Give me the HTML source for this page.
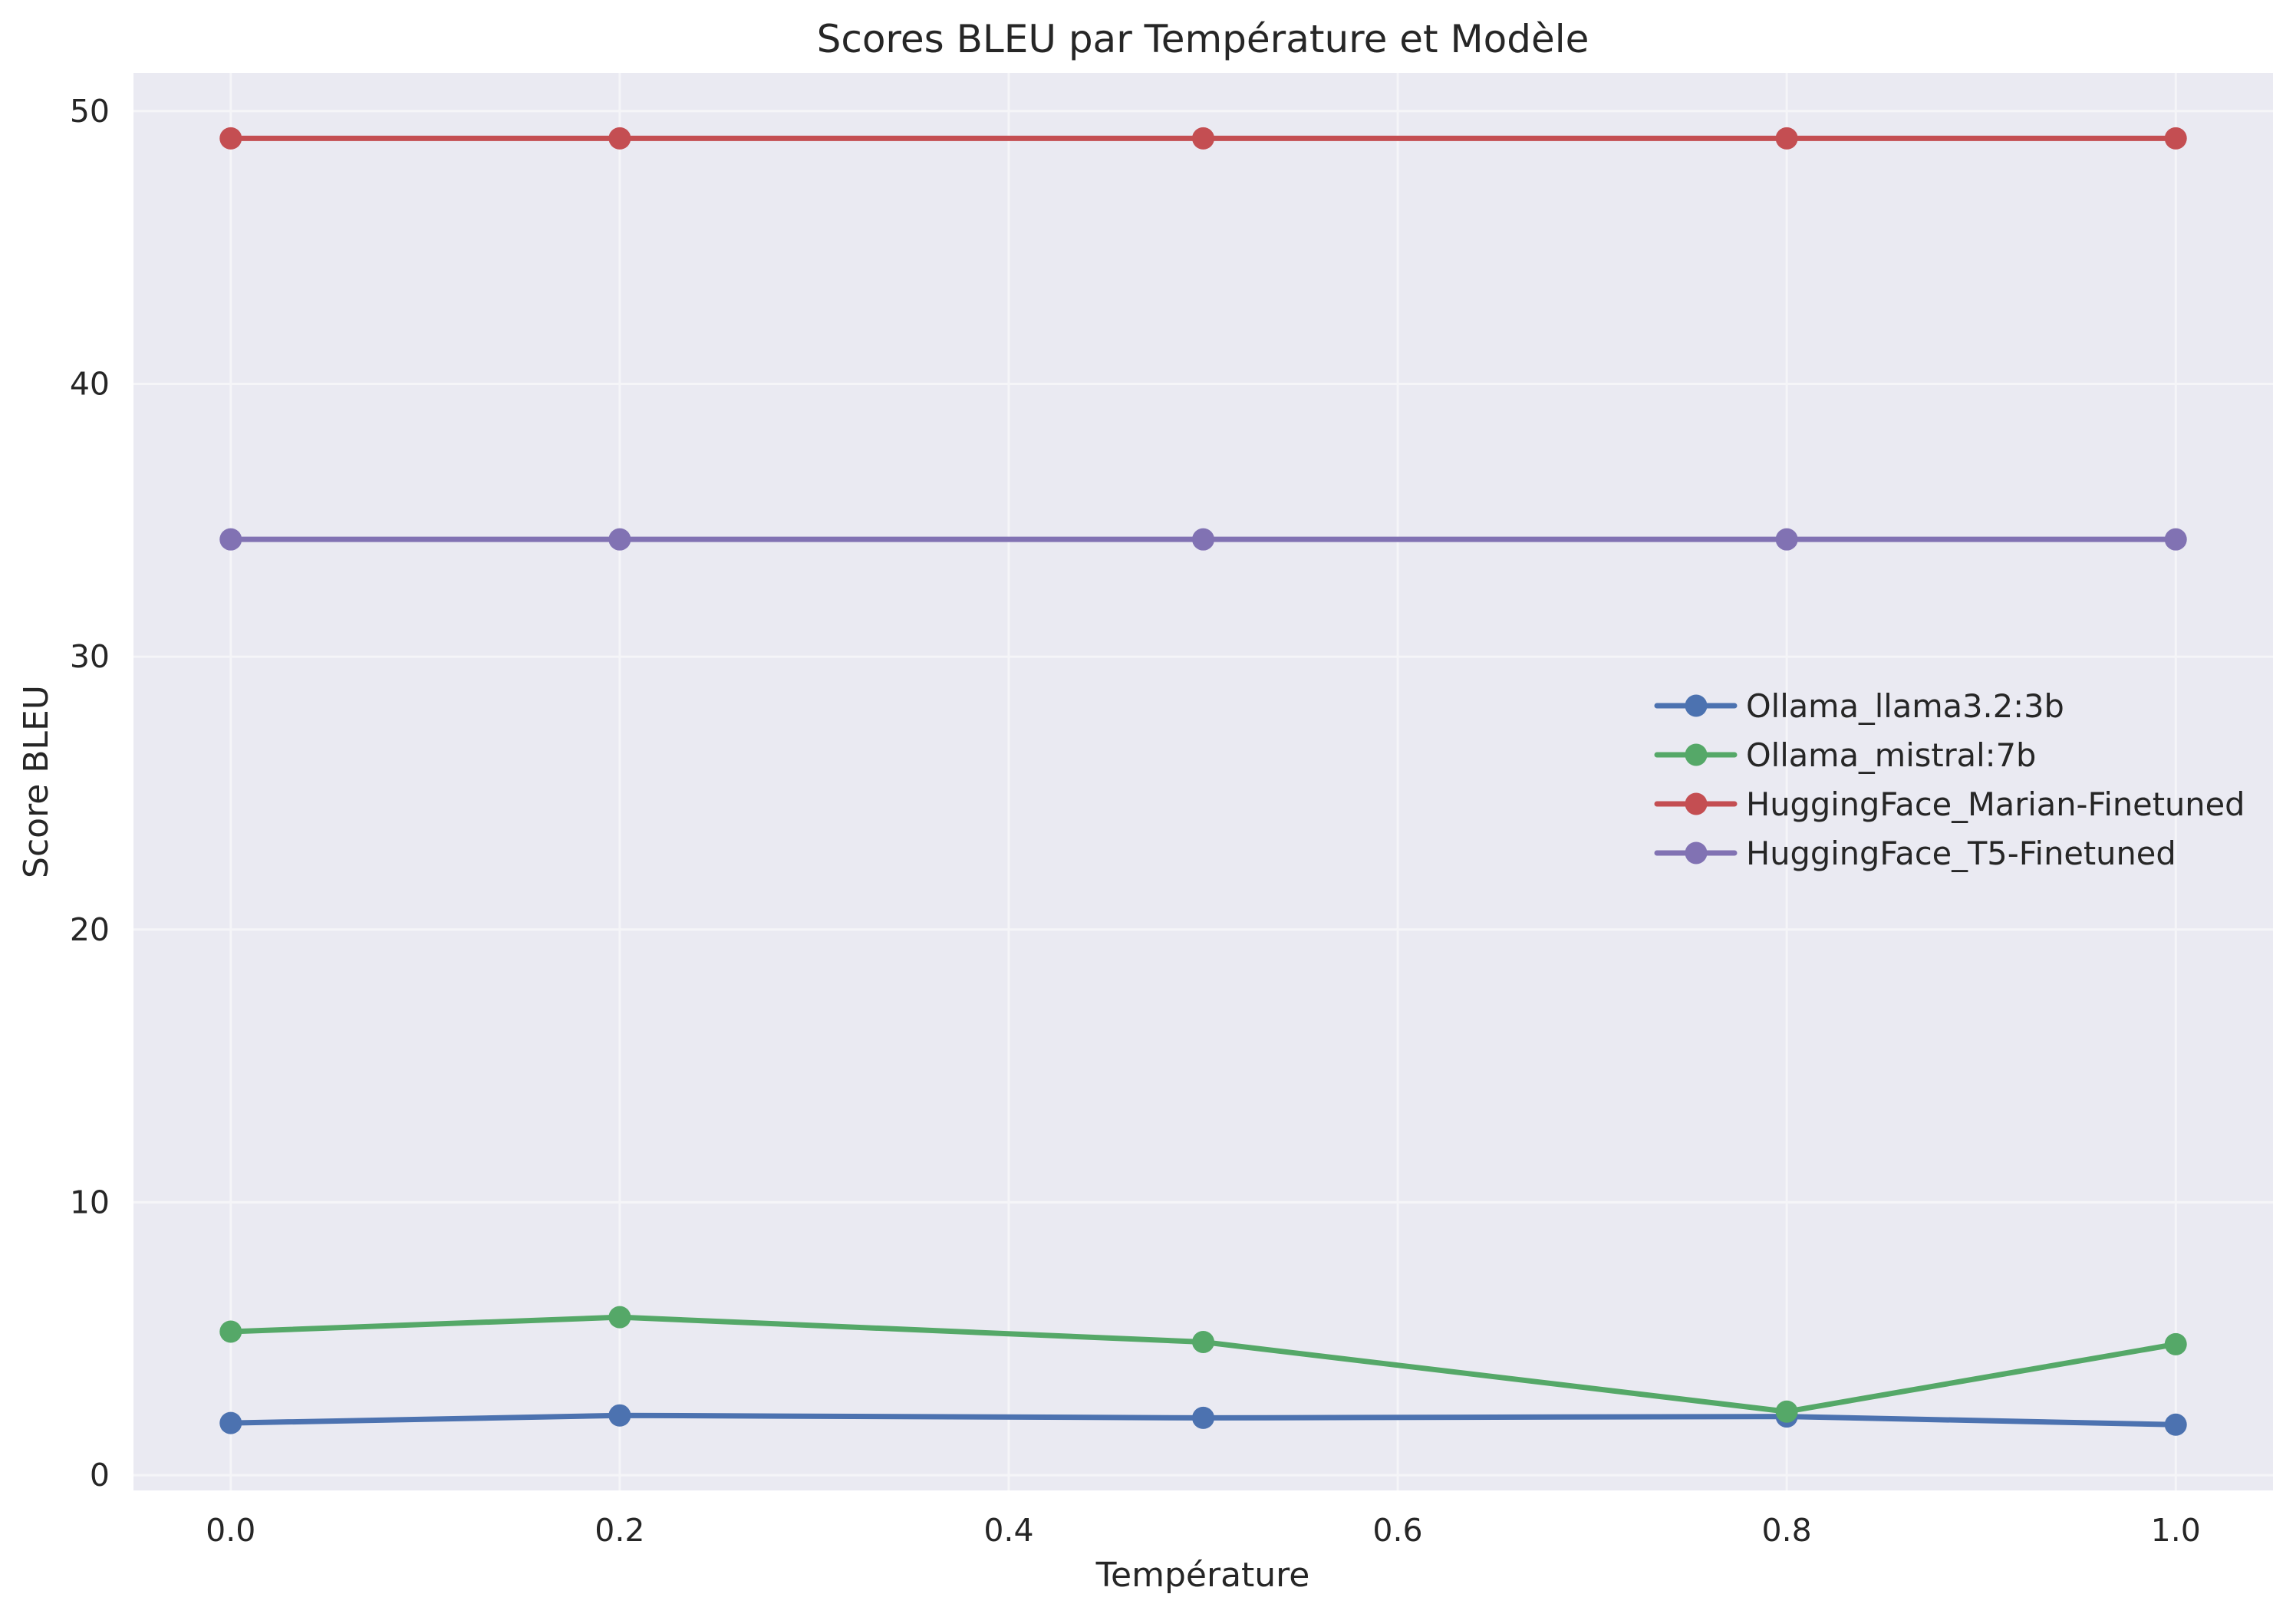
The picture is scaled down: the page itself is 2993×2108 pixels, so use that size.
<!DOCTYPE html>
<html><head><meta charset="utf-8"><style>
html,body{margin:0;padding:0;background:#fff}
svg{display:block;font-family:"DejaVu Sans","Liberation Sans",sans-serif}
</style></head><body>
<svg id="chart" width="2993" height="2108" viewBox="0 0 2993 2108" xmlns="http://www.w3.org/2000/svg">
<rect x="174" y="95" width="2789" height="1848" fill="#eaeaf2"/>
<g id="grid"></g>
<g id="ticks"></g>
<g id="series"></g>
<text x="1568" y="68" font-size="50" text-anchor="middle" fill="#262626">Scores BLEU par Température et Modèle</text>
<text x="1568" y="2068" font-size="44" text-anchor="middle" fill="#262626">Température</text>
<text transform="translate(62,1019) rotate(-90)" font-size="44" text-anchor="middle" fill="#262626">Score BLEU</text>
<g id="legend"></g>
</svg>
<script>
const temps = [0.0, 0.2, 0.5, 0.8, 1.0];
const seriesNames = ["Ollama_llama3.2:3b", "Ollama_mistral:7b", "HuggingFace_Marian-Finetuned", "HuggingFace_T5-Finetuned"];
const llamaValues = [1.91, 2.19, 2.1, 2.15, 1.85];
const mistralValues = [5.26, 5.79, 4.88, 2.33, 4.8];
const marianValues = [49.0, 49.0, 49.0, 49.0, 49.0];
const t5Values = [34.3, 34.3, 34.3, 34.3, 34.3];
const xTicks = [0.0, 0.2, 0.4, 0.6, 0.8, 1.0];
const xTickLabels = ["0.0", "0.2", "0.4", "0.6", "0.8", "1.0"];
const yTicks = [0, 10, 20, 30, 40, 50];
const yTickLabels = ["0", "10", "20", "30", "40", "50"];

const NS = "http://www.w3.org/2000/svg";
const L = 174, R = 2963, T = 95, B = 1943;
const xMin = -0.05, xMax = 1.05, yMin = -0.56, yMax = 51.4;
const xs = v => L + (v - xMin) / (xMax - xMin) * (R - L);
const ys = v => B - (v - yMin) / (yMax - yMin) * (B - T);
function mk(tag, attrs, parent) {
  const e = document.createElementNS(NS, tag);
  for (const k in attrs) e.setAttribute(k, attrs[k]);
  parent.appendChild(e); return e;
}
const grid = document.getElementById("grid"), ticks = document.getElementById("ticks");
xTicks.forEach((t, i) => {
  const l = mk("line", {x1: xs(t), x2: xs(t), y1: T, y2: B, stroke: "#f5f5f8", "stroke-width": 3}, grid);
  
  
  const tx = mk("text", {x: xs(t), y: 2009, "font-size": 41, "text-anchor": "middle", fill: "#262626"}, ticks);
  tx.textContent = xTickLabels[i];
  
  
});
yTicks.forEach((t, i) => {
  const l = mk("line", {x1: L, x2: R, y1: ys(t), y2: ys(t), stroke: "#f5f5f8", "stroke-width": 3}, grid);
  
  
  const tx = mk("text", {x: 143, y: ys(t) + 14, "font-size": 41, "text-anchor": "end", fill: "#262626"}, ticks);
  tx.textContent = yTickLabels[i];
  
  
});
const colors = ["#4c72b0", "#55a868", "#c44e52", "#8172b3"];
const allValues = [llamaValues, mistralValues, marianValues, t5Values];
const sg = document.getElementById("series"), lg = document.getElementById("legend");
allValues.forEach((vals, s) => {
  const g = mk("g", {}, sg);
  
  
  const pts = vals.map((v, i) => xs(temps[i]) + "," + ys(v)).join(" ");
  const pl = mk("polyline", {points: pts, fill: "none", stroke: colors[s], "stroke-width": 7, "stroke-linejoin": "round", "stroke-linecap": "round"}, g);
  
  
  vals.forEach((v, i) => {
    const c = mk("circle", {cx: xs(temps[i]), cy: ys(v), r: 14.5, fill: colors[s]}, g);
    
    
  });
  const ly = 920 + s * 64;
  const ll = mk("line", {x1: 2160, x2: 2261, y1: ly, y2: ly, stroke: colors[s], "stroke-width": 7, "stroke-linecap": "round"}, lg);
  
  
  const lc = mk("circle", {cx: 2211, cy: ly, r: 14.5, fill: colors[s]}, lg);
  
  
  const lt = mk("text", {x: 2276, y: ly + 15, "font-size": 41.5, fill: "#262626"}, lg);
  lt.textContent = seriesNames[s];
  
  
});
</script>
</body></html>
